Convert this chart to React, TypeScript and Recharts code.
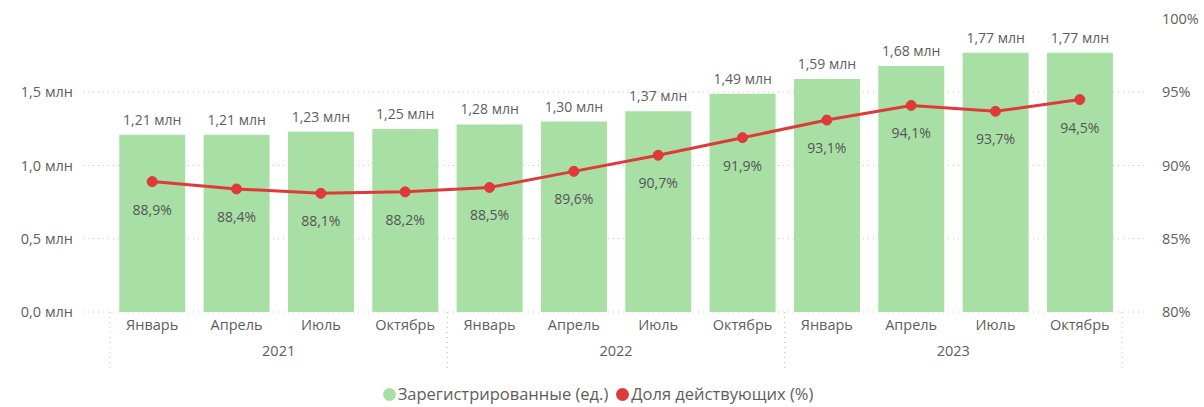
import { ComposedChart, Bar, Line, XAxis, YAxis, CartesianGrid, Legend, LabelList } from 'recharts'

const months = ['Январь', 'Апрель', 'Июль', 'Октябрь', 'Январь', 'Апрель', 'Июль', 'Октябрь', 'Январь', 'Апрель', 'Июль', 'Октябрь']
const years = ['2021', '2021', '2021', '2021', '2022', '2022', '2022', '2022', '2023', '2023', '2023', '2023']
const registered = [1.21, 1.21, 1.23, 1.25, 1.28, 1.3, 1.37, 1.49, 1.59, 1.68, 1.77, 1.77]
const activeShare = [88.9, 88.4, 88.1, 88.2, 88.5, 89.6, 90.7, 91.9, 93.1, 94.1, 93.7, 94.5]
const leftTicks = [0, 0.5, 1, 1.5]
const rightTicks = [80, 85, 90, 95, 100]

const data = months.map((month, i) => ({
  key: `${years[i]}-${i}`,
  month,
  year: years[i],
  registered: registered[i],
  share: activeShare[i],
}))

const FONT = '"Segoe UI", "Open Sans", sans-serif'
const GREY = '#605E5C'
const GREEN = '#A8DFA5'
const RED = '#E0393A'

const fmtMln = (v: number) => `${v.toFixed(1).replace('.', ',')} млн`
const fmtMln2 = (v: number) => `${v.toFixed(2).replace('.', ',')} млн`
const fmtPct = (v: number) => `${v.toFixed(1).replace('.', ',')}%`

function MonthTick({ x, y, index }: any) {
  return (
    <text x={x} y={y} dy="0.71em" textAnchor="middle" fill={GREY} fontSize={14.5} fontFamily={FONT}>
      {months[index]}
    </text>
  )
}

function YearTick({ x, y, payload }: any) {
  const half = payload.offset ?? 168.6
  return (
    <g>
      <line x1={x - half} x2={x - half} y1={y - 34} y2={y + 22} stroke="#C8C6C4" strokeDasharray="1 4" />
      <line x1={x + half} x2={x + half} y1={y - 34} y2={y + 22} stroke="#C8C6C4" strokeDasharray="1 4" />
      <text x={x} y={y} dy="0.71em" textAnchor="middle" fill={GREY} fontSize={14.5} fontFamily={FONT}>
        {payload.value}
      </text>
    </g>
  )
}

function LegendBox() {
  const items = [
    { label: 'Зарегистрированные (ед.)', color: GREEN },
    { label: 'Доля действующих (%)', color: RED },
  ]
  return (
    <div style={{ display: 'flex', justifyContent: 'center', paddingTop: 16, fontFamily: FONT, fontSize: 16.5, color: GREY, lineHeight: '20px' }}>
      {items.map((it) => (
        <div key={it.label} style={{ display: 'flex', alignItems: 'center', marginRight: 8 }}>
          <span style={{ width: 13, height: 13, borderRadius: '50%', background: it.color, display: 'inline-block', marginRight: 2 }} />
          {it.label}
        </div>
      ))}
    </div>
  )
}

export default function App() {
  return (
    <div style={{ position: 'absolute', left: 0, top: 0, background: '#fff' }}>
      <ComposedChart width={1204} height={407} data={data} margin={{ top: 19, right: 0, bottom: 0, left: 0 }} barCategoryGap="11%">
        <CartesianGrid yAxisId="left" horizontalValues={leftTicks} vertical={false} stroke="#C8C6C4" strokeDasharray="1 4" />
        <XAxis
          xAxisId={0}
          dataKey="key"
          height={26}
          padding={{ left: 27, right: 26 }}
          axisLine={false}
          tickLine={false}
          interval={0}
          tick={<MonthTick />}
        />
        <XAxis
          xAxisId="year"
          dataKey="year"
          allowDuplicatedCategory={false}
          height={30}
          padding={{ left: 27, right: 26 }}
          axisLine={false}
          tickLine={false}
          interval={0}
          tick={<YearTick />}
        />
        <YAxis
          yAxisId="left"
          width={83}
          domain={[0, 2]}
          ticks={leftTicks}
          tickFormatter={fmtMln}
          axisLine={false}
          tickLine={false}
          tickMargin={4}
          tick={{ fill: GREY, fontSize: 14.5, fontFamily: FONT }}
        />
        <YAxis
          yAxisId="right"
          orientation="right"
          width={56}
          domain={[80, 100]}
          ticks={rightTicks}
          tickFormatter={(v: number) => `${v}%`}
          axisLine={false}
          tickLine={false}
          tickMargin={8}
          tick={{ fill: GREY, fontSize: 14.5, fontFamily: FONT, textAnchor: 'start' }}
        />
        <Legend verticalAlign="bottom" height={39} content={<LegendBox />} />
        <Bar yAxisId="left" dataKey="registered" fill={GREEN} isAnimationActive={false}>
          <LabelList dataKey="registered" position="top" offset={10} formatter={(v: any) => fmtMln2(Number(v))} fill={GREY} fontSize={14} fontFamily={FONT} />
        </Bar>
        <Line
          yAxisId="right"
          dataKey="share"
          stroke={RED}
          strokeWidth={3}
          dot={{ r: 5, fill: RED, stroke: RED, strokeWidth: 1 }}
          activeDot={false}
          isAnimationActive={false}
        >
          <LabelList dataKey="share" position="bottom" offset={23} formatter={(v: any) => fmtPct(Number(v))} fill="#555" fontSize={14} fontFamily={FONT} />
        </Line>
      </ComposedChart>
    </div>
  )
}
